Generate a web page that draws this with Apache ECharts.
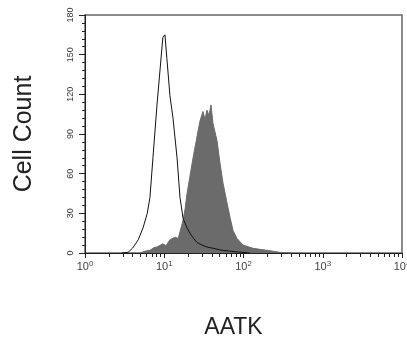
<!DOCTYPE html>
<html>
<head>
<meta charset="utf-8">
<script src="https://cdn.jsdelivr.net/npm/echarts@6/dist/echarts.min.js"></script>
<style>
  html, body { margin: 0; padding: 0; background: #fff; }
  #chart { width: 407px; height: 338px; }
</style>
</head>
<body>
<div id="chart"></div>
<script>
// isotype control (open outline)
const outlineX = [2.9, 3.5, 4.0, 4.7, 5.4, 6.1, 6.6, 7.2, 8.1, 8.8, 9.6, 10.2, 10.8, 11.8, 12.9, 14.5, 15.8, 17.3, 19.4, 21.1, 23.5, 25.9, 30, 34.6, 42, 50.5, 65, 83, 120]
const outlineY = [0, 0.5, 3.8, 10, 19, 30, 42, 72, 112, 137, 163, 165, 147, 119, 102, 72, 42, 26, 19, 15, 11, 8, 6, 4.5, 3.5, 2.3, 1.5, 0.8, 0]

// AATK stained (filled)
const filledX = [4.9, 5.8, 6.6, 7.4, 8.1, 9.6, 10.5, 11.8, 13.7, 15.0, 15.8, 17.3, 18.4, 19.4, 21.1, 23.1, 25.9, 28.3, 30.8, 32.7, 34.6, 36.7, 38.9, 41.2, 43.5, 46.3, 50.5, 55.1, 61.9, 67.6, 73.8, 82.8, 98.6, 132, 198, 288, 400]
const filledY = [0, 1.5, 2, 4, 4.5, 7, 5.5, 10, 12, 11, 16, 25, 34, 45, 58, 72, 88, 100, 107, 101, 108, 104, 112, 98, 92, 85, 68, 53, 38, 27, 17, 11, 6, 3.5, 2, 0.5, 0]

const yTicks = [0, 30, 60, 90, 120, 150, 180]
const xDecades = [1, 10, 100, 1000, 10000]
const xMinor = [2, 3, 4, 5, 6, 7, 8, 9, 20, 30, 40, 50, 60, 70, 80, 90, 200, 300, 400, 500, 600, 700, 800, 900, 2000, 3000, 4000, 5000, 6000, 7000, 8000, 9000]

const pairs = (xs, ys) => xs.map((x, i) => [x, ys[i]])

const chart = echarts.init(document.getElementById('chart'))

chart.setOption({
  backgroundColor: '#fff',
  animation: false,
  grid: {
    left: 85,
    right: 5,
    top: 15,
    bottom: 85,
    containLabel: false,
    outerBoundsMode: 'none',
    show: true,
    borderColor: '#666',
    borderWidth: 1.5,
  },
  xAxis: [
    {
      type: 'log',
      logBase: 10,
      min: 1,
      max: 10000,
      name: 'AATK',
      nameLocation: 'middle',
      nameGap: 63,
      nameTextStyle: {
        fontFamily: 'Liberation Sans',
        fontSize: 23,
        color: '#222',
        padding: [0, 20, 0, 0],
      },
      axisLine: { show: true, lineStyle: { color: '#222', width: 1 } },
      axisTick: { show: true, inside: false, length: 5, customValues: xDecades, lineStyle: { color: '#222' } },
      splitLine: { show: false },
      axisLabel: {
        customValues: xDecades,
        margin: 7,
        formatter: (v) => '{b|10}{s|' + Math.round(Math.log10(v)) + '}',
        rich: {
          b: { fontFamily: 'Liberation Sans', fontSize: 11, color: '#444' },
          s: { fontFamily: 'Liberation Sans', fontSize: 8, color: '#444', verticalAlign: 'top', padding: [0, 0, 6, 0] },
        },
      },
    },
    {
      type: 'log',
      logBase: 10,
      min: 1,
      max: 10000,
      position: 'bottom',
      axisLine: { show: false },
      axisTick: { show: true, inside: false, length: 4, customValues: xMinor, lineStyle: { color: '#222' } },
      axisLabel: { show: false },
      splitLine: { show: false },
    },
  ],
  yAxis: {
    type: 'value',
    min: 0,
    max: 180,
    interval: 30,
    name: 'Cell Count',
    nameLocation: 'middle',
    nameGap: 48,
    nameRotate: 90,
    nameTextStyle: {
      fontFamily: 'Liberation Sans',
      fontSize: 25,
      color: '#222',
    },
    axisLine: { show: true, lineStyle: { color: '#222', width: 1 } },
    axisTick: { show: true, inside: false, length: 6, lineStyle: { color: '#222' } },
    minorTick: { show: true, splitNumber: 5, length: 3, lineStyle: { color: '#222' } },
    splitLine: { show: false },
    axisLabel: {
      rotate: 90,
      margin: 10,
      fontFamily: 'Liberation Sans',
      fontSize: 9,
      color: '#333',
    },
  },
  series: [
    {
      name: 'AATK',
      type: 'line',
      xAxisIndex: 0,
      symbol: 'none',
      data: pairs(filledX, filledY),
      lineStyle: { color: '#6b6b6b', width: 1 },
      areaStyle: { color: '#6b6b6b', opacity: 1 },
      z: 2,
    },
    {
      name: 'Isotype',
      type: 'line',
      xAxisIndex: 0,
      symbol: 'none',
      data: pairs(outlineX, outlineY),
      lineStyle: { color: '#111', width: 1 },
      z: 3,
    },
  ],
})
</script>
</body>
</html>
